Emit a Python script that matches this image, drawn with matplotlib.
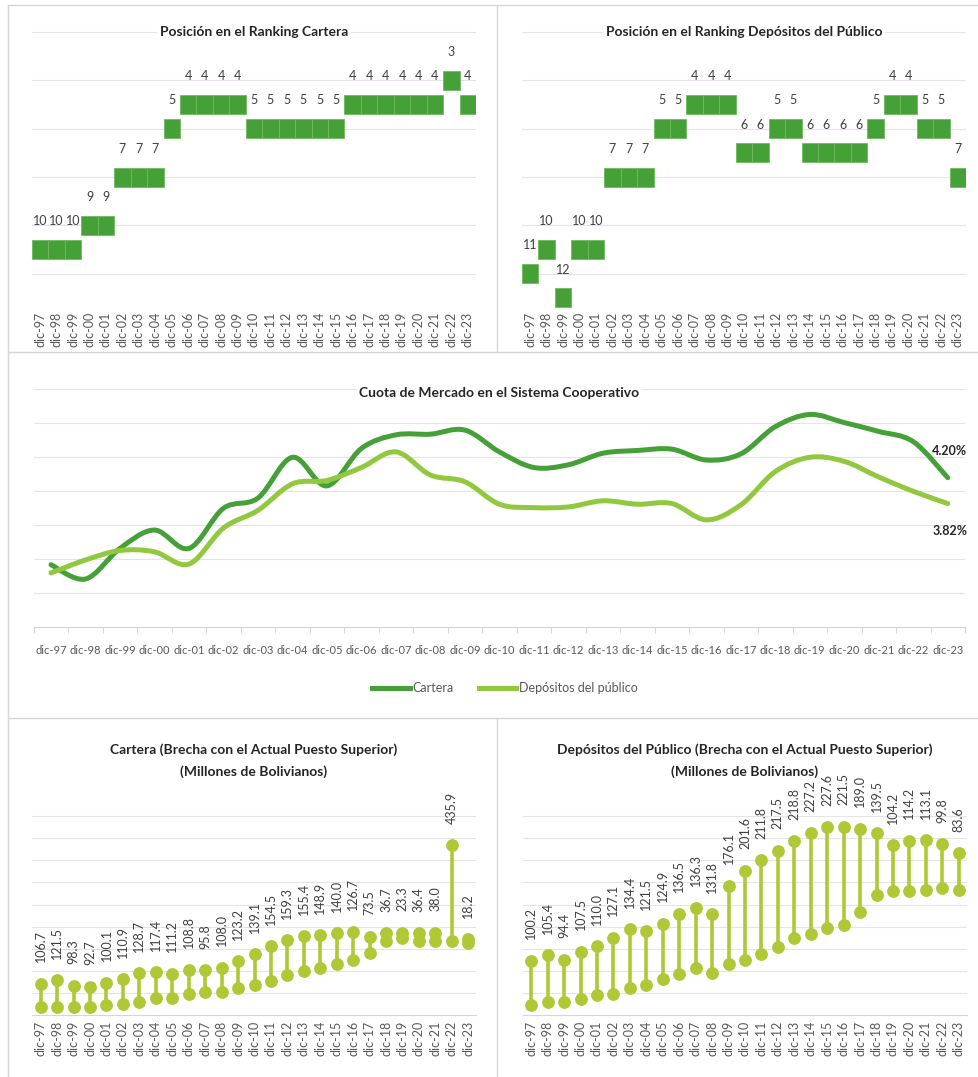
import numpy as np
import matplotlib
matplotlib.use("Agg")
import matplotlib.pyplot as plt
from matplotlib.path import Path
from matplotlib.patches import PathPatch
from matplotlib.lines import Line2D

W, H = 979, 1077

cats = ["dic-97", "dic-98", "dic-99", "dic-00", "dic-01", "dic-02", "dic-03",
        "dic-04", "dic-05", "dic-06", "dic-07", "dic-08", "dic-09", "dic-10",
        "dic-11", "dic-12", "dic-13", "dic-14", "dic-15", "dic-16", "dic-17",
        "dic-18", "dic-19", "dic-20", "dic-21", "dic-22", "dic-23"]

# posicion en el ranking
rank_cartera = [10, 10, 10, 9, 9, 7, 7, 7, 5, 4, 4, 4, 4, 5, 5, 5, 5, 5, 5,
                4, 4, 4, 4, 4, 4, 3, 4]
rank_depositos = [11, 10, 12, 10, 10, 7, 7, 7, 5, 5, 4, 4, 4, 6, 6, 5, 5, 6, 6,
                  6, 6, 5, 4, 4, 5, 5, 7]

# cuota de mercado (%)
cuota_cartera = [2.92, 2.71, 3.16, 3.43, 3.16, 3.75, 3.90, 4.50, 4.08, 4.63,
                 4.83, 4.84, 4.90, 4.58, 4.35, 4.39, 4.56, 4.60, 4.62, 4.46,
                 4.55, 4.95, 5.13, 5.01, 4.88, 4.73, 4.20]
cuota_depositos = [2.80, 2.99, 3.13, 3.11, 2.93, 3.46, 3.72, 4.11, 4.16, 4.35,
                   4.58, 4.24, 4.14, 3.81, 3.76, 3.77, 3.86, 3.81, 3.82, 3.58,
                   3.80, 4.29, 4.50, 4.44, 4.21, 4.00, 3.82]

# brecha con el puesto superior (MM Bs)
base_cartera = [35, 35, 35, 35, 45, 50, 60, 76, 76, 95, 106, 106, 121, 136,
                156, 179, 201, 212, 230, 250, 280, 333, 350, 333, 333, 333, 325]
brecha_cartera = [106.7, 121.5, 98.3, 92.7, 100.1, 110.9, 128.7, 117.4, 111.2,
                  108.8, 95.8, 108.0, 123.2, 139.1, 154.5, 159.3, 155.4, 148.9,
                  140.0, 126.7, 73.5, 36.7, 23.3, 36.4, 38.0, 435.9, 18.2]
base_depositos = [23, 30, 30, 36, 45, 48, 60, 68, 81, 93, 106, 96, 116, 125,
                  138, 154, 174, 184, 197, 204, 232, 272, 280, 280, 282, 287, 282]
brecha_depositos = [100.2, 105.4, 94.4, 107.5, 110.0, 127.1, 134.4, 121.5,
                    124.9, 136.5, 136.3, 131.8, 176.1, 201.6, 211.8, 217.5,
                    218.8, 227.2, 227.6, 221.5, 189.0, 139.5, 104.2, 114.2,
                    113.1, 99.8, 83.6]

GREEN = "#46a038"
LIGHT = "#92c83e"
DOT = "#afc836"
GRID = "#e4e4e4"
TXT = "#404040"
TICK = "#595959"
FS = 9        # labels
FT = 10       # titles

plt.rcParams["font.family"] = ["Lato", "DejaVu Sans"]

fig = plt.figure(figsize=(W / 100, H / 100), dpi=100)


def box(x0, y0, x1, y1):
    return fig.add_axes([x0 / W, 1 - y1 / H, (x1 - x0) / W, (y1 - y0) / H])


def ftext(x, y, s, **kw):
    fig.text(x / W, 1 - y / H, s, **kw)


def fline(x0, y0, x1, y1):
    fig.add_artist(Line2D([x0 / W, x1 / W], [1 - y0 / H, 1 - y1 / H],
                          color="#d6d6d6", lw=1.0))


# panel borders
fline(8, 5, 979, 5)
fline(8, 5, 8, 1077)
fline(497, 5, 497, 352)
fline(8, 352, 979, 352)
fline(8, 718, 979, 718)
fline(497, 718, 497, 1077)


def ranking(ax, ranks, title):
    x = np.arange(len(ranks))
    r = np.array(ranks)
    ax.bar(x, 0.78, bottom=r - 0.39, width=1.0, color=GREEN,
           edgecolor="#6fb95e", linewidth=0.6)
    for xi, ri in zip(x, r):
        ax.text(xi, ri - 1.17, str(ri), ha="center", va="center",
                fontsize=FS, color=TXT)
    ax.set_xlim(-0.5, len(r) - 0.5)
    ax.set_ylim(12.5, 0.5)
    ax.set_yticks([1, 3, 5, 7, 9, 11])
    ax.grid(axis="y", color=GRID, lw=0.8)
    ax.set_axisbelow(True)
    ax.tick_params(axis="y", left=False, labelleft=False)
    ax.set_xticks(x, cats, rotation=90, fontsize=FS, color=TICK)
    ax.tick_params(axis="x", length=0, pad=1)
    for s in ax.spines.values():
        s.set_visible(False)
    ax.text((len(r) - 1) / 2, 1, title, ha="center", va="center",
            fontsize=FT, weight="bold", color="#262626",
            bbox=dict(fc="white", ec="none", pad=2))


ax1 = box(32, 20, 476, 310)
ranking(ax1, rank_cartera, "Posición en el Ranking Cartera")
ax2 = box(522, 20, 966, 310)
ranking(ax2, rank_depositos, "Posición en el Ranking Depósitos del Público")


# smoothed line (Bezier through the points, like Excel)
def smooth_path(xs, ys):
    pts = np.column_stack([xs, ys])
    n = len(pts)
    verts = [pts[0]]
    codes = [Path.MOVETO]
    for i in range(n - 1):
        p0 = pts[i - 1] if i > 0 else pts[i]
        p1 = pts[i]
        p2 = pts[i + 1]
        p3 = pts[i + 2] if i + 2 < n else pts[i + 1]
        c1 = p1 + (p2 - p0) / 6
        c2 = p2 - (p3 - p1) / 6
        verts += [c1, c2, p2]
        codes += [Path.CURVE4] * 3
    return Path(verts, codes)


ax3 = box(33.75, 380, 965, 627.3)
x = np.arange(len(cats))
for vals, col in [(cuota_cartera, GREEN), (cuota_depositos, LIGHT)]:
    ax3.add_patch(PathPatch(smooth_path(x, vals), fill=False, edgecolor=col,
                            lw=3.6, capstyle="round", joinstyle="round"))
ax3.set_xlim(-0.5, len(cats) - 0.5)
ax3.set_ylim(2.0, 2.0 + (627.3 - 380) / 68)
ax3.set_yticks(np.arange(2.5, 5.6, 0.5))
ax3.grid(axis="y", color=GRID, lw=0.8)
ax3.set_axisbelow(True)
ax3.tick_params(axis="y", left=False, labelleft=False)
ax3.set_xticks(x, cats, fontsize=8, color=TICK)
ax3.set_xticks(np.arange(-0.5, len(cats), 1), minor=True)
ax3.tick_params(axis="x", which="major", length=0, pad=13)
ax3.tick_params(axis="x", which="minor", length=4, color="#d0d0d0")
for s in ["top", "left", "right"]:
    ax3.spines[s].set_visible(False)
ax3.spines["bottom"].set_color("#d0d0d0")
ax3.text(13, 5.44, "Cuota de Mercado en el Sistema Cooperativo", ha="center",
         va="center", fontsize=FT, weight="bold", color="#262626",
         bbox=dict(fc="white", ec="none", pad=2))
ax3.annotate(f"{cuota_cartera[-1]:.2f}%", (x[-1], cuota_cartera[-1]),
             xytext=(1.5, 19), textcoords="offset points", ha="center",
             va="center", fontsize=FS, weight="bold", color="#262626")
ax3.annotate(f"{cuota_depositos[-1]:.2f}%", (x[-1], cuota_depositos[-1]),
             xytext=(1.5, -20), textcoords="offset points", ha="center",
             va="center", fontsize=FS, weight="bold", color="#262626")

handles = [Line2D([], [], color=GREEN, lw=3.6),
           Line2D([], [], color=LIGHT, lw=3.6)]
fig.legend(handles, ["Cartera", "Depósitos del público"], loc="center",
           bbox_to_anchor=(505 / W, 1 - 688 / H), ncol=2, frameon=False,
           fontsize=FS, handlelength=3.0, handletextpad=0.2,
           columnspacing=2.0, labelcolor=TICK)


def dumbbell(ax, base, gap, step, top):
    x = np.arange(len(base))
    lo = np.array(base, dtype=float)
    hi = lo + np.array(gap)
    ax.vlines(x, lo, hi, color=DOT, lw=2.6, zorder=2)
    ax.scatter(x, lo, s=85, color=DOT, zorder=3, linewidths=0)
    ax.scatter(x, hi, s=85, color=DOT, zorder=3, linewidths=0)
    for xi, hv, g in zip(x, hi, gap):
        ax.annotate(f"{g:.1f}", (xi, hv), xytext=(0, 15.5),
                    textcoords="offset points", rotation=90, ha="center",
                    va="bottom", fontsize=FS, color=TXT)
    ax.set_xlim(-0.5, len(base) - 0.5)
    ax.set_ylim(0, top)
    ax.set_yticks(np.arange(step, step * 9.5, step))
    ax.grid(axis="y", color=GRID, lw=0.8)
    ax.set_axisbelow(True)
    ax.tick_params(axis="y", left=False, labelleft=False)
    ax.set_xticks(x, cats, rotation=90, fontsize=FS, color=TICK)
    ax.tick_params(axis="x", length=0, pad=4)
    for s in ["top", "left", "right"]:
        ax.spines[s].set_visible(False)
    ax.spines["bottom"].set_color("#d6d6d6")


ax4 = box(32.5, 735, 476.5, 1015)
dumbbell(ax4, base_cartera, brecha_cartera, 100, 280 / 0.221)
ax5 = box(523, 735, 967, 1015)
dumbbell(ax5, base_depositos, brecha_depositos, 50, 280 / 0.442)

for cx, l1 in [(254, "Cartera (Brecha con el Actual Puesto Superior)"),
               (745, "Depósitos del Público (Brecha con el Actual Puesto Superior)")]:
    ftext(cx, 750, l1, ha="center", va="center", fontsize=FT,
          weight="bold", color="#262626")
    ftext(cx, 772, "(Millones de Bolivianos)", ha="center", va="center",
          fontsize=FT, weight="bold", color="#262626")

fig.savefig("out.png", dpi=100, facecolor="white")
